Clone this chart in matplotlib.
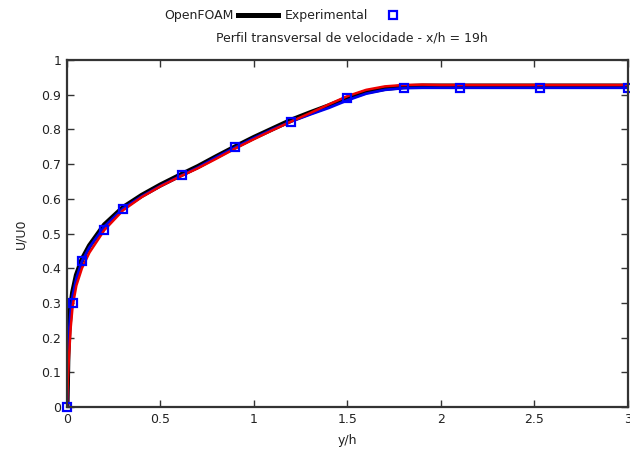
import matplotlib
matplotlib.use("Agg")
from matplotlib import pyplot as plt
from matplotlib.lines import Line2D

# experimental profile
exp_x = [0.0, 0.032, 0.08, 0.2, 0.3, 0.615, 0.9, 1.2, 1.5, 1.8, 2.1, 2.53, 3.0]
exp_y = [0.0, 0.30, 0.42, 0.51, 0.57, 0.67, 0.75, 0.82, 0.89, 0.92, 0.92, 0.92, 0.92]

# OpenFOAM (black)
of_x = [0.0, 0.005, 0.01, 0.02, 0.03, 0.05, 0.08, 0.12, 0.2, 0.3, 0.4, 0.5, 0.6, 0.7,
        0.8, 0.9, 1.0, 1.1, 1.2, 1.3, 1.4, 1.5, 1.6, 1.7, 1.8, 1.9, 2.0, 2.5, 3.0]
of_y = [0.0, 0.15, 0.22, 0.29, 0.33, 0.38, 0.425, 0.465, 0.525, 0.575, 0.61, 0.64, 0.667, 0.693,
        0.722, 0.75, 0.777, 0.802, 0.827, 0.848, 0.868, 0.89, 0.908, 0.918, 0.923, 0.925, 0.925, 0.925, 0.925]

# second run (blue line)
b_x = [0.0, 0.005, 0.01, 0.02, 0.03, 0.05, 0.08, 0.12, 0.2, 0.3, 0.4, 0.5, 0.6, 0.7,
       0.8, 0.9, 1.0, 1.1, 1.2, 1.3, 1.4, 1.5, 1.6, 1.7, 1.8, 1.9, 2.0, 2.5, 3.0]
b_y = [0.0, 0.14, 0.21, 0.28, 0.32, 0.37, 0.42, 0.46, 0.52, 0.572, 0.607, 0.637, 0.664, 0.69,
       0.72, 0.748, 0.775, 0.8, 0.823, 0.843, 0.862, 0.884, 0.903, 0.914, 0.919, 0.92, 0.92, 0.92, 0.92]

# third run (red line)
r_x = [0.0, 0.005, 0.01, 0.02, 0.03, 0.05, 0.08, 0.12, 0.2, 0.3, 0.4, 0.5, 0.6, 0.7,
       0.8, 0.9, 1.0, 1.1, 1.2, 1.3, 1.4, 1.5, 1.6, 1.7, 1.8, 1.9, 2.0, 2.5, 3.0]
r_y = [0.0, 0.08, 0.14, 0.23, 0.29, 0.35, 0.40, 0.445, 0.51, 0.567, 0.605, 0.636, 0.663, 0.688,
       0.716, 0.745, 0.772, 0.798, 0.823, 0.847, 0.872, 0.896, 0.914, 0.924, 0.928, 0.929, 0.928, 0.928, 0.928]

x_ticks = [0, 0.5, 1, 1.5, 2, 2.5, 3]
x_labels = ["0", "0.5", "1", "1.5", "2", "2.5", "3"]
y_ticks = [0, 0.1, 0.2, 0.3, 0.4, 0.5, 0.6, 0.7, 0.8, 0.9, 1]
y_labels = ["0", "0.1", "0.2", "0.3", "0.4", "0.5", "0.6", "0.7", "0.8", "0.9", "1"]

plt.rcParams['font.family'] = ['DejaVu Sans']
plt.rcParams['font.size'] = 9

fig = plt.figure(figsize=(6.3, 4.55), dpi=100)
ax = fig.add_axes([67 / 630, 48 / 455, 561 / 630, 347 / 455])

ax.plot(of_x, of_y, color='black', lw=3.6, solid_capstyle='butt')
ax.plot(b_x, b_y, color='#0000ee', lw=2)
ax.plot(r_x, r_y, color='#ee0000', lw=1.8)
ax.plot(exp_x, exp_y, ls='none', marker='s', ms=6, mfc='none', mec='#0000ff', mew=1.6, clip_on=False)

ax.set_xlim(0, 3)
ax.set_ylim(0, 1)
ax.set_xticks(x_ticks)
ax.set_xticklabels(x_labels)
ax.set_yticks(y_ticks)
ax.set_yticklabels(y_labels)
ax.tick_params(direction='in', length=5, width=1, color='#333333', top=True, right=True,
               labelcolor='#222222', pad=4)
for s in ax.spines.values():
    s.set_color('#333333')
    s.set_linewidth(1.6)

ax.set_xlabel('y/h', color='#222222', labelpad=6)
ax.set_ylabel('U/U0', color='#222222', labelpad=10)
ax.set_title('Perfil transversal de velocidade - x/h = 19h', color='#222222', fontsize=9, pad=13, x=0.507)

handles = [Line2D([], [], color='black', lw=3.6),
           Line2D([], [], ls='none', marker='s', ms=6, mfc='none', mec='#0000ff', mew=1.6)]
fig.legend(handles, ['OpenFOAM', 'Experimental'], loc='center', bbox_to_anchor=(0.458, 0.965),
           ncol=2, frameon=False, markerfirst=False, handlelength=3.2, handletextpad=0.4,
           columnspacing=0.5, borderpad=0, labelcolor='#222222')

fig.savefig('out.png', dpi=100)
